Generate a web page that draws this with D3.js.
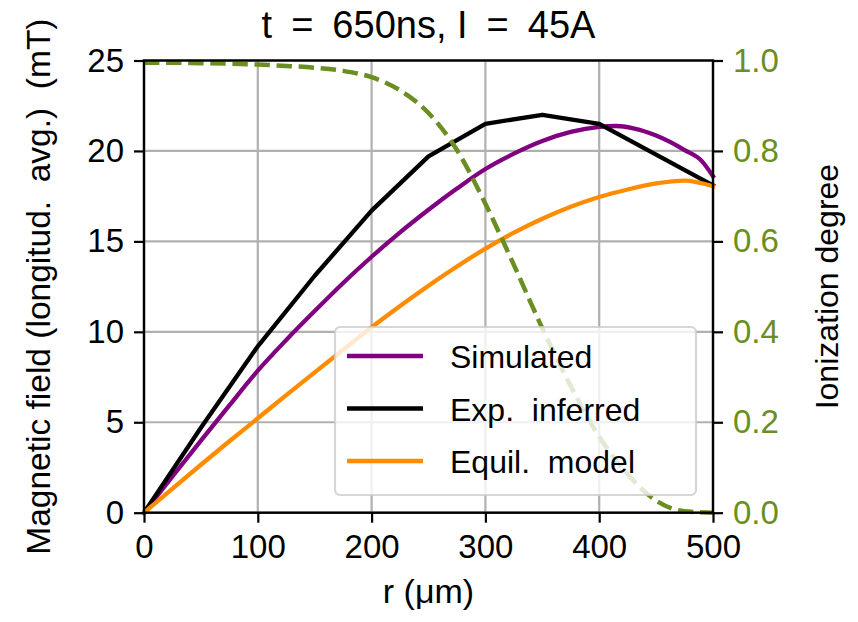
<!DOCTYPE html>
<html>
<head>
<meta charset="utf-8">
<script src="https://cdn.jsdelivr.net/npm/d3@7"></script>
<style>
  html, body { margin: 0; padding: 0; background: #fff; }
  svg text { font-family: 'Liberation Sans', Arial, sans-serif; }
</style>
</head>
<body>
<div id="chart"></div>
<script>
// ── 数据 ─────────────────────────────────────────────────────────────────────
const xTicks = [0, 100, 200, 300, 400, 500];
const yTicks = [0, 5, 10, 15, 20, 25];
const y2Ticks = [0, 0.2, 0.4, 0.6, 0.8, 1.0];

// Exp. inferred (折线, 每 50 µm 一点)
const rExp = [0, 50, 100, 150, 200, 250, 300, 350, 400, 450, 500];
const bExp = [0, 4.7, 9.2, 13.1, 16.7, 19.7, 21.5, 22.0, 21.5, 19.8, 18.1];

// Simulated
const rSim = [0, 25, 50, 75, 100, 125, 150, 175, 200, 225, 250, 275, 300, 325, 350, 375, 400, 415, 430, 450, 475, 490, 500];
const bSim = [0, 2.0, 3.98, 5.93, 7.85, 9.55, 11.15, 12.7, 14.15, 15.5, 16.75, 17.92, 19.0, 19.85, 20.55, 21.05, 21.33, 21.38, 21.25, 20.85, 20.05, 19.45, 18.6];

// Equil. model
const rEq = [0, 25, 50, 75, 100, 125, 150, 175, 200, 225, 250, 275, 300, 325, 350, 375, 400, 425, 450, 475, 500];
const bEq = [0, 1.33, 2.65, 3.95, 5.22, 6.5, 7.76, 9.01, 10.25, 11.43, 12.55, 13.61, 14.6, 15.48, 16.25, 16.91, 17.45, 17.87, 18.2, 18.36, 18.05];

// Ionization degree (右轴)
const rIon = [0, 25, 50, 75, 100, 125, 150, 175, 200, 225, 250, 275, 300, 325, 350, 375, 400, 425, 450, 475, 500];
const ion  = [0.995, 0.995, 0.994, 0.993, 0.991, 0.988, 0.984, 0.977, 0.963, 0.934, 0.884, 0.802, 0.683, 0.548, 0.408, 0.28, 0.168, 0.085, 0.027, 0.003, 0.0];

const legendLabels = ['Simulated', 'Exp.  inferred', 'Equil.  model'];

(function () {
    'use strict';

    const W = 858, H = 622;
    const m = { left: 144, right: 145, top: 60.5, bottom: 109.3 };
    const iw = W - m.left - m.right;
    const ih = H - m.top - m.bottom;

    const FS = 33;
    const GREEN = '#6b8e23';

    const svg = d3.select('#chart').append('svg')
        .attr('width', W).attr('height', H);

    const g = svg.append('g').attr('transform', `translate(${m.left},${m.top})`);

    // ── 比例尺 ───────────────────────────────────────────────────────────────
    const x  = d3.scaleLinear().domain([0, 500]).range([0, iw]);
    const y  = d3.scaleLinear().domain([0, 25]).range([ih, 0]);
    const y2 = d3.scaleLinear().domain([0, 1]).range([ih, 0]);

    // ── 网格 ─────────────────────────────────────────────────────────────────
    const grid = g.append('g').attr('class', 'grid');
    grid.selectAll('line.gx').data(xTicks).enter().append('line')
        .attr('x1', d => x(d)).attr('x2', d => x(d))
        .attr('y1', 0).attr('y2', ih)
        .attr('stroke', '#b0b0b0').attr('stroke-width', 2.2);
    grid.selectAll('line.gy').data(yTicks).enter().append('line')
        .attr('y1', d => y(d)).attr('y2', d => y(d))
        .attr('x1', 0).attr('x2', iw)
        .attr('stroke', '#b0b0b0').attr('stroke-width', 2.2);

    // ── 曲线 ─────────────────────────────────────────────────────────────────
    const smooth = d3.line().curve(d3.curveMonotoneX);
    const straight = d3.line();

    const series = [
        { r: rSim, v: bSim, color: '#800080', gen: smooth },
        { r: rExp, v: bExp, color: '#000000', gen: straight },
        { r: rEq,  v: bEq,  color: '#ff8c00', gen: smooth }
    ];

    series.forEach(s => {
        g.append('path')
            .datum(s.r.map((r, i) => [x(r), y(s.v[i])]))
            .attr('d', s.gen)
            .attr('fill', 'none')
            .attr('stroke', s.color)
            .attr('stroke-width', 4.3)
            .attr('stroke-linejoin', 'round')
            .attr('stroke-linecap', 'square');
    });

    g.append('path')
        .datum(rIon.map((r, i) => [x(r), y2(ion[i])]))
        .attr('d', smooth)
        .attr('fill', 'none')
        .attr('stroke', GREEN)
        .attr('stroke-width', 4.5)
        .attr('stroke-dasharray', '15.4,6.7');

    // ── 坐标轴 ───────────────────────────────────────────────────────────────
    function styleAxis(sel, color) {
        sel.select('.domain').remove();
        sel.selectAll('.tick line').attr('stroke', '#000').attr('stroke-width', 2.2);
        sel.selectAll('.tick text')
            .style('font-size', FS + 'px')
            .attr('fill', color || '#000');
    }

    const xAxis = g.append('g').attr('transform', `translate(0,${ih})`)
        .call(d3.axisBottom(x).tickValues(xTicks).tickSize(10).tickPadding(12).tickFormat(d3.format('d')));
    styleAxis(xAxis);

    const yAxis = g.append('g')
        .call(d3.axisLeft(y).tickValues(yTicks).tickSize(10).tickPadding(10).tickFormat(d3.format('d')));
    styleAxis(yAxis);

    const y2Axis = g.append('g').attr('transform', `translate(${iw},0)`)
        .call(d3.axisRight(y2).tickValues(y2Ticks).tickSize(10).tickPadding(10).tickFormat(d3.format('.1f')));
    styleAxis(y2Axis, GREEN);

    // 边框
    g.append('rect')
        .attr('x', 0).attr('y', 0).attr('width', iw).attr('height', ih)
        .attr('fill', 'none').attr('stroke', '#000').attr('stroke-width', 2.4);

    // ── 图例 ─────────────────────────────────────────────────────────────────
    const lg = svg.append('g').attr('transform', 'translate(335,327)');
    lg.append('rect')
        .attr('width', 361).attr('height', 168)
        .attr('rx', 5).attr('ry', 5)
        .attr('fill', '#fff').attr('fill-opacity', 0.8)
        .attr('stroke', '#cccccc').attr('stroke-opacity', 0.8).attr('stroke-width', 2.2);

    const items = lg.selectAll('g.item')
        .data(series.map((s, i) => ({ color: s.color, label: legendLabels[i] })))
        .enter().append('g')
        .attr('transform', (d, i) => `translate(0,${29 + i * 52.5})`);
    items.append('line')
        .attr('x1', 12).attr('x2', 88)
        .attr('stroke', d => d.color).attr('stroke-width', 4.3);
    items.append('text')
        .attr('x', 115).attr('y', 12)
        .style('font-size', '32px')
        .style('white-space', 'pre')
        .text(d => d.label);

    // ── 标题与轴标签 ─────────────────────────────────────────────────────────
    svg.append('text')
        .attr('x', m.left + iw / 2).attr('y', 38)
        .attr('text-anchor', 'middle')
        .style('font-size', '38px')
        .text('t\u2002=\u2002650ns, I\u2002=\u200245A');

    svg.append('text')
        .attr('x', m.left + iw / 2).attr('y', 603)
        .attr('text-anchor', 'middle')
        .style('font-size', '34px')
        .text('r (μm)');

    svg.append('text')
        .attr('transform', `translate(50,${m.top + ih / 2}) rotate(-90)`)
        .attr('text-anchor', 'middle')
        .style('font-size', '33.5px')
        .style('white-space', 'pre')
        .text('Magnetic field (longitud.  avg.)  (mT)');

    svg.append('text')
        .attr('transform', `translate(838,${m.top + ih / 2}) rotate(-90)`)
        .attr('text-anchor', 'middle')
        .style('font-size', '32px')
        .text('Ionization degree');
})();
</script>
</body>
</html>
